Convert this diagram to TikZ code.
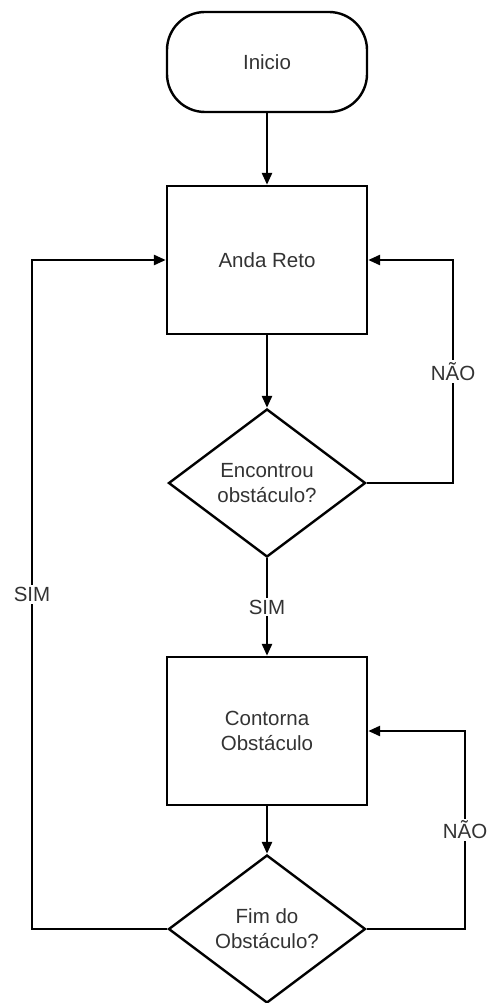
\documentclass[tikz,border=0pt]{standalone}
\usepackage{fontspec}
\setmainfont{Liberation Sans}
\usetikzlibrary{shapes.geometric,arrows.meta}
\tikzset{
  base/.style={draw,line width=2.4pt,text=black!80,align=center,font=\fontsize{20.5}{25}\selectfont},
  terminal/.style={base,rounded corners=38pt,minimum width=200pt,minimum height=100pt},
  proc/.style={base,minimum width=200pt,minimum height=148pt},
  decision/.style={base,diamond,inner sep=0pt,aspect=1.33,minimum width=197pt,minimum height=148pt},
  flow/.style={line width=2.6pt,-{Triangle[length=12pt,width=10pt]}},
  lbl/.style={fill=white,text=black!80,inner sep=2pt,font=\fontsize{20.5}{25}\selectfont}
}
\begin{document}
\begin{tikzpicture}[x=1pt,y=-1pt]
\useasboundingbox (0,0) rectangle (491,1003);
\node[terminal] (inicio) at (267,62) {Inicio};
\node[proc] (anda) at (267,260) {Anda Reto};
\node[decision] (enc) at (267,483) {Encontrou\\obstáculo?};
\node[proc] (cont) at (267,731) {Contorna\\Obstáculo};
\node[decision] (fim) at (267,929) {Fim do\\Obstáculo?};
\coordinate (r1) at (453,0);
\coordinate (r2) at (465,0);
\coordinate (l1) at (32,0);

\draw[flow] (inicio) -- (anda);
\draw[flow] (anda) -- (enc);
\draw[flow] (enc) -- node[lbl] {SIM} (cont);
\draw[flow] (cont) -- (fim);
% loops
\draw[flow] (enc.east) -- (enc.east -| r1) -- node[lbl] {NÃO} (anda.east -| r1) -- (anda.east);
\draw[flow] (fim.east) -- (fim.east -| r2) -- node[lbl] {NÃO} (cont.east -| r2) -- (cont.east);
\draw[flow] (fim.west) -- (fim.west -| l1) -- node[lbl] {SIM} (anda.west -| l1) -- (anda.west);
\end{tikzpicture}
\end{document}
